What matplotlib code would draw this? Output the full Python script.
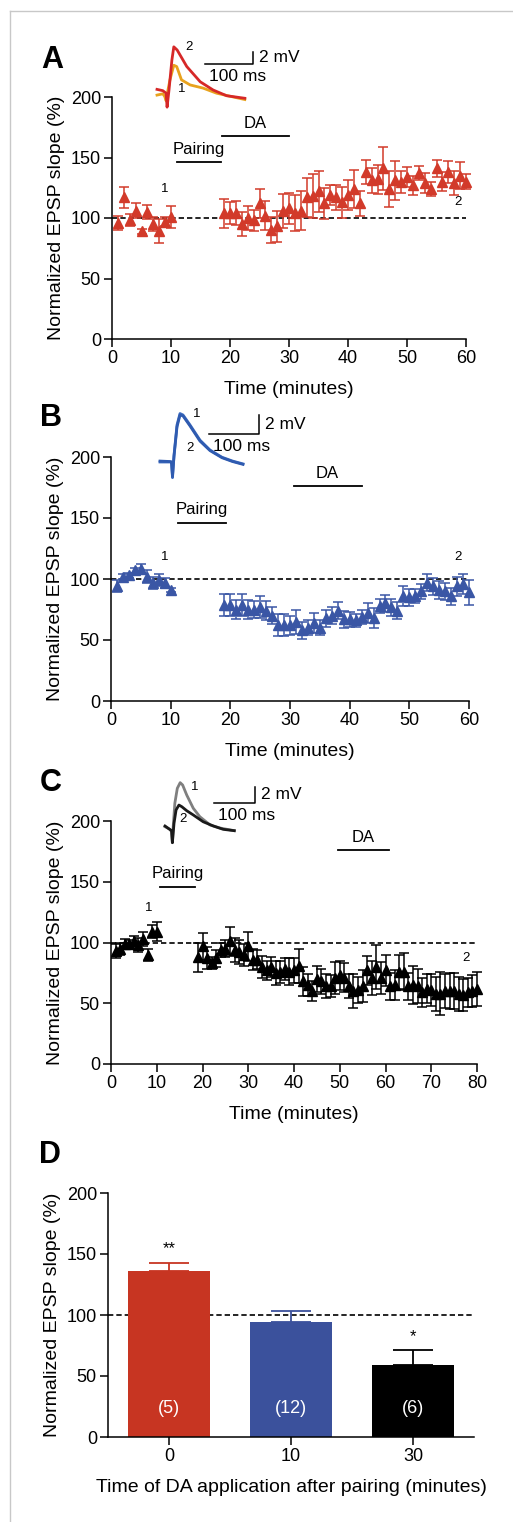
import matplotlib
matplotlib.use("Agg")
import matplotlib.pyplot as plt
from matplotlib.lines import Line2D

plt.rcParams['font.family'] = ['Liberation Sans', 'DejaVu Sans']

W, H = 513, 1522

# ---------------- data: time courses (minutes, % of baseline) ----------------
a_t = list(range(1, 11)) + list(range(19, 61))
a_mean = [96, 117, 98, 106, 89, 105, 95, 89, 97, 101,
          104, 104, 104, 95, 100, 98, 112, 102, 90, 93,
          106, 108, 104, 106, 117, 118, 122, 112, 119, 117,
          113, 119, 124, 112, 138, 131, 132, 141, 124, 131,
          130, 134, 127, 137, 129, 124, 141, 130, 138, 129,
          135, 130]
a_sem = [6, 9, 5, 6, 2, 6, 6, 10, 4, 9,
         12, 9, 10, 10, 10, 9, 12, 12, 11, 13,
         14, 13, 15, 16, 16, 18, 17, 13, 8, 10,
         13, 12, 16, 10, 10, 10, 12, 18, 15, 16,
         9, 8, 8, 6, 8, 6, 7, 8, 9, 10,
         11, 6]

b_t = list(range(1, 11)) + list(range(19, 61))
b_mean = [94, 102, 103, 107, 108, 102, 97, 99, 97, 91,
          79, 79, 75, 79, 75, 75, 77, 74, 70, 62,
          62, 62, 65, 58, 60, 64, 60, 68, 70, 74,
          67, 67, 66, 69, 72, 68, 78, 80, 77, 74,
          86, 85, 86, 90, 97, 94, 91, 90, 86, 94,
          96, 89]
b_sem = [5, 2, 2, 2, 4, 5, 5, 5, 4, 2,
         9, 9, 8, 9, 8, 7, 9, 8, 7, 9,
         9, 8, 10, 7, 6, 8, 6, 7, 7, 7,
         7, 6, 5, 6, 8, 8, 6, 7, 7, 7,
         8, 7, 6, 6, 7, 7, 7, 7, 7, 8,
         8, 10]

c_t = list(range(1, 11)) + list(range(19, 81))
c_mean = [93, 95, 99, 99, 101, 98, 103, 90, 109, 109,
          88, 97, 87, 83, 87, 94, 95, 101, 94, 92,
          90, 97, 86, 86, 80, 77, 80, 75, 76, 78,
          76, 77, 81, 68, 65, 60, 70, 68, 64, 64,
          71, 73, 71, 64, 60, 61, 64, 77, 71, 80,
          71, 77, 64, 65, 76, 76, 64, 65, 64, 59,
          62, 61, 58, 58, 60, 60, 60, 58, 57, 59,
          60, 62]
c_sem = [6, 5, 4, 3, 4, 6, 6, 5, 5, 8,
         12, 11, 9, 5, 7, 6, 7, 12, 10, 10,
         9, 12, 9, 8, 9, 8, 8, 10, 9, 9,
         11, 10, 14, 12, 9, 8, 11, 10, 10, 9,
         13, 12, 12, 10, 14, 11, 13, 12, 14, 18,
         13, 13, 11, 12, 14, 15, 11, 16, 14, 12,
         12, 13, 14, 18, 14, 15, 15, 14, 13, 12,
         13, 14]

# pairing / DA application periods (minutes)
a_pairing, a_da = (11, 18.5), (18.7, 30)
b_pairing, b_da = (11.2, 19.2), (30.6, 42)
c_pairing, c_da = (10.8, 18.4), (49.6, 60.7)

# ---------------- data: summary bars ----------------
d_labels = ['0', '10', '30']
d_mean = [136, 94, 59]
d_sem = [7, 9, 12]
d_n = ['(5)', '(12)', '(6)']
d_sig = ['**', '', '*']

# ---------------- data: example EPSP traces (ms, mV) ----------------
a_trace1_t = [0, 12, 16, 19, 21, 27, 35, 41, 51, 69, 96, 124, 159, 183]
a_trace1_v = [0.3, 0.5, 0.1, -0.6, 0.4, 2.7, 5.0, 4.8, 2.7, 1.9, 1.4, 0.6, 0.0, -0.4]
a_trace2_t = [0, 12, 19, 21, 25, 31, 35, 42, 62, 90, 117, 145, 183]
a_trace2_v = [1.2, 1.0, 0.6, -1.6, 1.1, 5.8, 7.9, 7.4, 4.8, 2.4, 1.1, 0.2, -0.2]

b_trace1_t = [0, 20, 23, 25, 28, 34, 40, 46, 60, 80, 100, 124, 145, 166]
b_trace1_v = [0.0, 0.0, 0.0, -1.65, 0.7, 3.9, 5.1, 4.95, 3.9, 2.3, 1.26, 0.5, 0.1, -0.2]
b_trace2_t = [0, 20, 23, 25, 28, 34, 40, 46, 60, 80, 100, 124, 145, 166]
b_trace2_v = [0.1, 0.05, 0.0, -1.5, 0.6, 3.7, 4.95, 4.85, 3.8, 2.2, 1.2, 0.45, 0.05, -0.25]

c_trace1_t = [0, 12, 16, 18, 20, 24, 30, 37, 43, 53, 69, 85, 110, 134, 169]
c_trace1_v = [0.16, -0.16, -0.44, -1.76, 0.16, 2.96, 4.75, 5.43, 5.15, 3.95, 2.36, 1.35, 0.36, 0.0, -0.32]
c_trace2_t = [0, 8, 16, 18, 22, 27, 34, 41, 53, 69, 93, 118, 142, 169]
c_trace2_v = [0.24, -0.04, -0.32, -1.76, 0.56, 2.16, 2.75, 2.55, 2.07, 1.56, 0.75, 0.24, -0.16, -0.32]

RED = '#d23a2a'
BLUE = '#3a56a5'
BLACK = '#000000'

fig = plt.figure(figsize=(W / 100, H / 100), dpi=100)


def px_axes(left, top, right, bottom):
    return fig.add_axes([left / W, 1 - bottom / H, (right - left) / W, (bottom - top) / H])


def style_axes(ax):
    for s in ['top', 'right']:
        ax.spines[s].set_visible(False)
    for s in ['left', 'bottom']:
        ax.spines[s].set_linewidth(1.1)
    ax.tick_params(direction='out', length=6, width=1.1, labelsize=13, pad=2)


def time_panel(box, t, mean, sem, color, xmax, xstep, pairing, da, da_y, lab1, lab2, letter):
    ax = px_axes(*box)
    style_axes(ax)
    ax.axhline(100, color='k', lw=1.2, ls=(0, (3.2, 1.8)), zorder=1)
    ax.errorbar(t, mean, yerr=sem, fmt='^', color=color, ms=6.5, capsize=3.6,
                elinewidth=1.1, capthick=1.1, clip_on=False, zorder=3)
    ax.set_xlim(0, xmax)
    ax.set_ylim(0, 200)
    ax.set_xticks(range(0, xmax + 1, xstep))
    ax.set_yticks(range(0, 201, 50))
    ax.set_xlabel('Time (minutes)', fontsize=14, labelpad=10)
    ax.set_ylabel('Normalized EPSP slope (%)', fontsize=14, labelpad=4)
    # pairing and DA bars
    ax.plot(pairing, [146, 146], color='k', lw=1.3, clip_on=False)
    ax.text(sum(pairing) / 2, 157, 'Pairing', ha='center', va='center', fontsize=12)
    ax.plot(da, [da_y, da_y], color='k', lw=1.3, clip_on=False)
    ax.text(sum(da) / 2, da_y + 10.5, 'DA', ha='center', va='center', fontsize=12)
    ax.text(lab1[0], lab1[1], '1', ha='center', va='center', fontsize=9.5)
    ax.text(lab2[0], lab2[1], '2', ha='center', va='center', fontsize=9.5)
    fig.text(letter[1] / W, 1 - letter[2] / H, letter[0], fontsize=22, fontweight='bold',
             ha='left', va='center')
    return ax


def trace_inset(box, origin, scale, traces, bar, lab1, lab2):
    left, top, right, bottom = box
    x0, y0 = origin
    sx, sy = scale
    ax = px_axes(*box)
    ax.set_xlim((left - x0) / sx, (right - x0) / sx)
    ax.set_ylim((y0 - bottom) / sy, (y0 - top) / sy)
    ax.axis('off')
    for tt, vv, col in traces:
        ax.plot(tt, vv, color=col, lw=2.0, solid_joinstyle='round', clip_on=False)
    bt, bv = bar
    ax.plot([bt, bt + 100, bt + 100], [bv, bv, bv + 2], color='k', lw=1.1, clip_on=False)
    ax.annotate('2 mV', (bt + 100, bv + 1), xytext=(4, 0), textcoords='offset points',
                ha='left', va='center', fontsize=12.5)
    ax.annotate('100 ms', (bt, bv), xytext=(3, -9), textcoords='offset points',
                ha='left', va='center', fontsize=12.5)
    ax.text(lab1[0], lab1[1], '1', ha='center', va='center', fontsize=9.5)
    ax.text(lab2[0], lab2[1], '2', ha='center', va='center', fontsize=9.5)
    return ax


# ---------------- panel A ----------------
time_panel((112, 97, 466, 339), a_t, a_mean, a_sem, RED, 60, 10, a_pairing, a_da, 168,
           (8.9, 124), (58.6, 113), ('A', 41, 60))
trace_inset((150, 35, 330, 115), (157, 97), (0.48, 6.35),
            [(a_trace1_t, a_trace1_v, '#e8a21e'), (a_trace2_t, a_trace2_v, '#d62828')],
            (100, 5.15), (51, 1.2), (67, 7.9))

# ---------------- panel B ----------------
time_panel((111, 457, 469, 701), b_t, b_mean, b_sem, BLUE, 60, 10, b_pairing, b_da, 176,
           (9.0, 118), (58.2, 118), ('B', 40, 418))
trace_inset((150, 400, 330, 485), (160, 462), (0.5, 9.5),
            [(b_trace1_t, b_trace1_v, '#3d6cc0'), (b_trace2_t, b_trace2_v, '#2f5bb0')],
            (98, 2.95), (74, 5.05), (60, 1.5))

# ---------------- panel C ----------------
time_panel((111, 821, 477, 1064), c_t, c_mean, c_sem, BLACK, 80, 10, c_pairing, c_da, 176,
           (8.3, 128), (77.6, 87), ('C', 40, 783))
trace_inset((155, 770, 330, 850), (165, 828), (0.41, 8.35),
            [(c_trace1_t, c_trace1_v, '#7f7f7f'), (c_trace2_t, c_trace2_v, '#1a1a1a')],
            (120, 2.96), (71.5, 4.95), (43, 1.08))

# ---------------- panel D ----------------
axd = px_axes(108, 1193, 474, 1437)
style_axes(axd)
pos = list(range(len(d_labels)))
d_colors = ['#c73522', '#3b519c', '#000000']
axd.axhline(100, color='k', lw=1.2, ls=(0, (3.2, 1.8)), zorder=1)
axd.bar(pos, d_mean, width=0.675, color=d_colors, zorder=2)
for p, m, s, c, n, sig in zip(pos, d_mean, d_sem, d_colors, d_n, d_sig):
    axd.errorbar([p], [m], yerr=[[0], [s]], fmt='none', ecolor=c, elinewidth=1.3,
                 capsize=14.5, capthick=1.3, zorder=3)
    axd.text(p, 23, n, ha='center', va='center', color='white', fontsize=13)
    if sig:
        axd.text(p, m + s + 5, sig, ha='center', va='bottom', fontsize=12)
axd.set_xlim(-0.5, 2.5)
axd.set_ylim(0, 200)
axd.set_xticks(pos)
axd.set_xticklabels(d_labels)
axd.set_yticks(range(0, 201, 50))
axd.set_xlabel('Time of DA application after pairing (minutes)', fontsize=14, labelpad=10)
axd.set_ylabel('Normalized EPSP slope (%)', fontsize=14, labelpad=4)
fig.text(39 / W, 1 - 1155 / H, 'D', fontsize=22, fontweight='bold', ha='left', va='center')

# frame around the figure
fig.add_artist(Line2D([10 / W, 10 / W], [0, 1 - 11 / H], transform=fig.transFigure,
                      color='#c8c8c8', lw=1))
fig.add_artist(Line2D([10 / W, 1], [1 - 11 / H, 1 - 11 / H], transform=fig.transFigure,
                      color='#c8c8c8', lw=1))

fig.savefig('out.png', dpi=100)
